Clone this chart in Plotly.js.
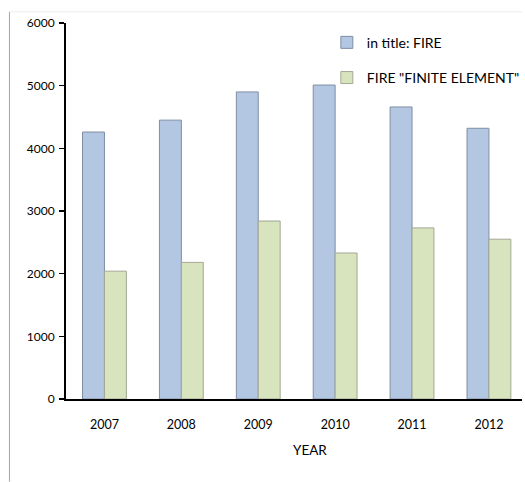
<!DOCTYPE html>
<html>
<head>
<meta charset="utf-8">
<script src="https://cdn.plot.ly/plotly-3.0.1.min.js"></script>
<style>html,body{margin:0;padding:0;background:#fff;}#chart{width:525px;height:482px;}</style>
</head>
<body>
<div id="chart"></div>
<script>
const years = ["2007", "2008", "2009", "2010", "2011", "2012"];
const fireTitle = [4260, 4450, 4900, 5010, 4660, 4320];
const fireFiniteElement = [2040, 2180, 2840, 2330, 2730, 2550];
const seriesNames = ["in title: FIRE", "FIRE \"FINITE ELEMENT\""];

const font = "Lato, 'Noto Sans', sans-serif";

const traces = [
  {
    type: "bar", x: years, y: fireTitle, name: seriesNames[0],
    legendgroup: "a",
    marker: {color: "#B3C7E2", line: {color: "#7F8EA3", width: 1}}
  },
  {
    type: "bar", x: years, y: fireFiniteElement, name: seriesNames[1],
    legendgroup: "b",
    marker: {color: "#D8E4BD", line: {color: "#A3A795", width: 1}}
  }
];

const layout = {
  width: 525, height: 482,
  margin: {l: 66, r: 0, t: 23, b: 83},
  paper_bgcolor: "#fff", plot_bgcolor: "#fff",
  barmode: "group", bargap: 0.43, bargroupgap: 0,
  font: {family: font, size: 12, color: "#000"},
  showlegend: true,
  legend: {
    x: 0.572, y: 0.99, xanchor: "left", yanchor: "top",
    bgcolor: "rgba(0,0,0,0)", font: {family: font, size: 14, color: "#000"},
    tracegroupgap: 14, itemwidth: 30, traceorder: "grouped"
  },
  xaxis: {
    type: "category", range: [-0.5, 5.43],
    showline: true, linecolor: "#000", linewidth: 2,
    ticks: "", showgrid: false, zeroline: false,
    ticklabelstandoff: 13,
    tickfont: {family: font, size: 12.5, color: "#000"}
  },
  yaxis: {
    range: [0, 6000], dtick: 1000, tick0: 0,
    showline: true, linecolor: "#000", linewidth: 2,
    ticks: "outside", ticklen: 5, tickwidth: 1.5, tickcolor: "#000",
    showgrid: false, zeroline: false,
    ticklabelstandoff: 2,
    tickfont: {family: font, size: 12, color: "#000"}
  },
  annotations: [
    {text: "YEAR", xref: "paper", yref: "paper", x: 0.534, y: -0.135,
     xanchor: "center", yanchor: "middle", showarrow: false,
     font: {family: font, size: 13.5, color: "#000"}}
  ],
  shapes: [
    {type: "line", xref: "paper", yref: "paper", x0: -0.124, x1: -0.124, y0: 1.03, y1: -0.22,
     line: {color: "#A6A6A6", width: 1}},
    {type: "line", xref: "paper", yref: "paper", x0: -0.124, x1: 1, y0: 1.03, y1: 1.03,
     line: {color: "#EEEEEE", width: 1}}
  ]
};

Plotly.newPlot("chart", traces, layout, {displayModeBar: false, staticPlot: true});
</script>
</body>
</html>
